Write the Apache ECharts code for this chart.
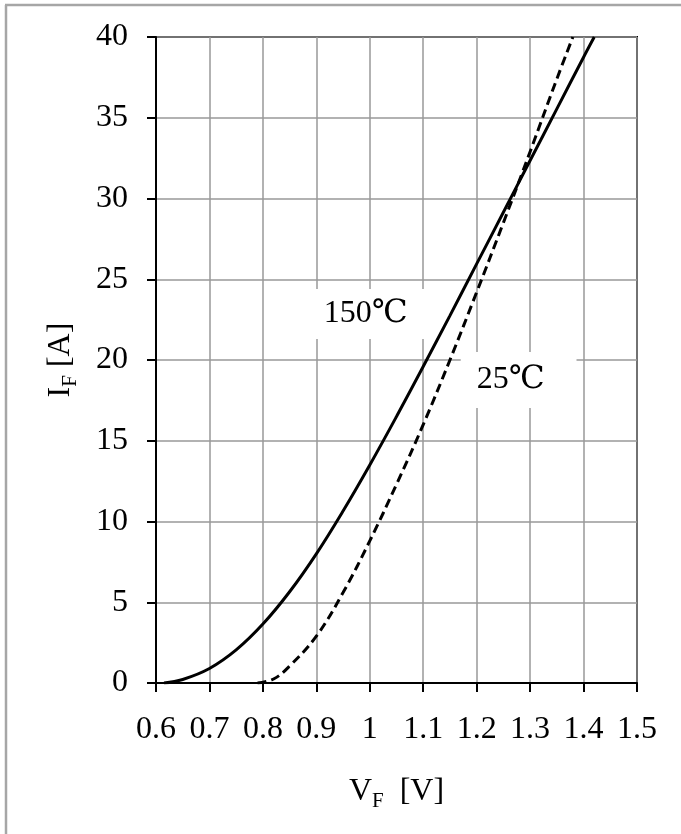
<!DOCTYPE html>
<html>
<head>
<meta charset="utf-8">
<script src="https://cdn.jsdelivr.net/npm/echarts@6/dist/echarts.min.js"></script>
<style>
html,body{margin:0;padding:0;background:#fff;}
#chart{width:681px;height:834px;}
</style>
</head>
<body>
<div id="chart"></div>
<script>
// ---- data ----
const vf150 = [0.615, 0.65, 0.70, 0.75, 0.80, 0.85, 0.90, 0.95, 1.00, 1.05, 1.10, 1.15, 1.20, 1.25, 1.30, 1.35, 1.40, 1.42];
const if150 = [0,     0.22, 0.9,  2.05, 3.65, 5.65, 8.0,  10.65, 13.5, 16.5, 19.6, 22.75, 25.95, 29.15, 32.35, 35.55, 38.75, 40];
const vf25  = [0.79, 0.82, 0.85, 0.90, 0.95, 1.00, 1.05, 1.10, 1.15, 1.20, 1.25, 1.30, 1.35, 1.38];
const if25  = [0,    0.25, 1.05, 2.9,  5.6,  8.8,  12.3, 16.0, 20.0, 24.2, 28.5, 32.9, 37.4, 40.0];
const xMin = 0.6, xMax = 1.5, xStep = 0.1;
const yMin = 0, yMax = 40, yStep = 5;
const label150 = '150\u2103';
const label25 = '25\u2103';
const pos150 = [0.998, 22.85];
const pos25 = [1.2785, 18.76];

const FONT = "'Liberation Serif', 'Times New Roman', 'DejaVu Serif', 'Noto Sans CJK JP', serif";
const pair = (xs, ys) => xs.map((x, i) => [x, ys[i]]);

const chart = echarts.init(document.getElementById('chart'), null, {renderer: 'canvas'});
const option = {
  animation: false,
  backgroundColor: '#fff',
  grid: {left: 156, top: 37, right: 44, bottom: 151, show: true, borderColor: '#000', borderWidth: 2, backgroundColor: 'transparent'},
  graphic: [
    {type: 'line', shape: {x1: 6, y1: 5, x2: 6, y2: 840}, style: {stroke: '#a6a6a6', lineWidth: 2.5}},
    {type: 'line', shape: {x1: 5, y1: 5, x2: 690, y2: 5}, style: {stroke: '#a6a6a6', lineWidth: 2.5}}
  ],
  xAxis: {
    type: 'value', min: xMin, max: xMax, interval: xStep,
    name: '{m|V}{s|F}{m|  [V]}',
    nameLocation: 'middle', nameGap: 88,
    nameTextStyle: {
      rich: {
        m: {fontSize: 32, fontFamily: FONT, color: '#000'},
        s: {fontSize: 21, fontFamily: FONT, color: '#000', padding: [20, 0, 0, 0]}
      }
    },
    axisLine: {show: true, lineStyle: {color: '#000', width: 2}},
    axisTick: {show: true, inside: false, length: 9, lineStyle: {color: '#000', width: 2}},
    axisLabel: {fontSize: 32, fontFamily: FONT, color: '#000', margin: 31},
    splitLine: {show: true, lineStyle: {color: '#999', width: 1.5}}
  },
  yAxis: {
    type: 'value', min: yMin, max: yMax, interval: yStep,
    name: '{m|I}{s|F}{m| [A]}',
    nameLocation: 'middle', nameGap: 75,
    nameTextStyle: {
      rich: {
        m: {fontSize: 32, fontFamily: FONT, color: '#000'},
        s: {fontSize: 21, fontFamily: FONT, color: '#000', padding: [20, 0, 0, 0]}
      }
    },
    axisLine: {show: true, lineStyle: {color: '#000', width: 2}},
    axisTick: {show: true, inside: false, length: 9, lineStyle: {color: '#000', width: 2}},
    axisLabel: {fontSize: 32, fontFamily: FONT, color: '#000', margin: 28},
    splitLine: {show: true, lineStyle: {color: '#999', width: 1.5}}
  },
  series: [
    {
      name: '150C', type: 'line', data: pair(vf150, if150),
      smooth: 0.4, showSymbol: false, symbol: 'none',
      lineStyle: {color: '#000', width: 3, type: 'solid'},
      markPoint: {
        symbol: 'rect', symbolSize: 1, itemStyle: {color: 'rgba(0,0,0,0)'},
        data: [{coord: pos150, value: label150}],
        label: {show: true, position: 'inside', formatter: label150, fontSize: 32, fontFamily: FONT, color: '#000',
          backgroundColor: '#fff', padding: [8, 22, 10, 16]}
      }
    },
    {
      name: '25C', type: 'line', data: pair(vf25, if25),
      smooth: 0.4, showSymbol: false, symbol: 'none',
      lineStyle: {color: '#000', width: 3, type: [9, 5]},
      markPoint: {
        symbol: 'rect', symbolSize: 1, itemStyle: {color: 'rgba(0,0,0,0)'},
        data: [{coord: pos25, value: label25}],
        label: {show: true, position: 'inside', formatter: label25, fontSize: 32, fontFamily: FONT, color: '#000',
          backgroundColor: '#fff', padding: [20, 32, 4, 16]}
      }
    }
  ]
};
chart.setOption(option);
</script>
</body>
</html>
